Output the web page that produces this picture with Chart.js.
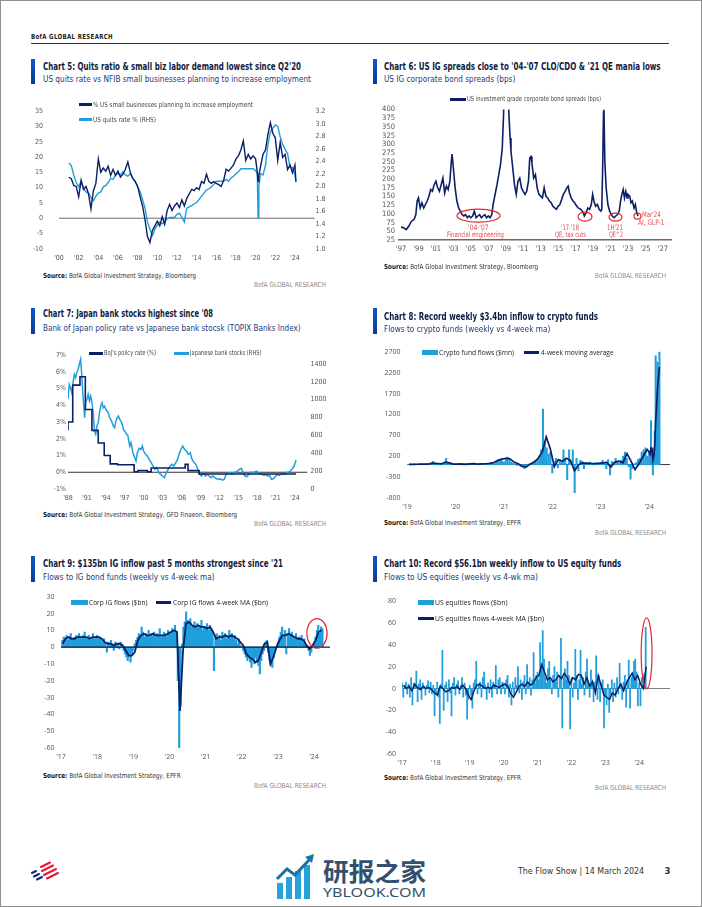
<!DOCTYPE html>
<html lang="en">
<head>
<meta charset="UTF-8">
<meta name="viewport" content="width=device-width, initial-scale=1.0">
<title>BofA Global Research - The Flow Show, page 3</title>
<script src="https://cdn.jsdelivr.net/npm/chart.js@4.4.1/dist/chart.umd.min.js"></script>
<style>
  html, body { margin: 0; padding: 0; background: #fff; }
  .page { position: relative; width: 702px; height: 907px; box-sizing: border-box; border: 1px solid #8f8f8f; overflow: hidden;
          font-family: "Liberation Sans Narrow", "DejaVu Sans Condensed", "Roboto", sans-serif; color: #222; }
  .t { position: absolute; white-space: nowrap; line-height: 1; transform-origin: 0 50%; transform: translateY(-50%); }
  .hdr { font-weight: bold; font-size: 7px; letter-spacing: .4px; color: #222; }
  .rule { position: absolute; height: 1px; background: #333; }
  .accent { position: absolute; width: 4px; height: 25px; background: linear-gradient(#0d57c8, #0a3d92); }
  .title { font-weight: bold; font-size: 10.5px; color: #0f1c42; }
  .sub { font-size: 9.5px; color: #1d3a78; }
  .src { font-size: 7px; color: #333; }
  .src b { color: #111; }
  .brand { font-size: 7px; color: #8c8c8c; }
  .lg { font-size: 7px; color: #444; }
  .lg2 { font-family: "Open Sans", "Noto Sans", sans-serif; font-size: 7px; color: #222; }
  .ann { font-size: 7.5px; color: #e6474d; }
  .sw { position: absolute; }
  canvas, svg { position: absolute; }
  .foot { font-size: 9.5px; color: #333; }
  .wm { font-family: "Noto Sans CJK SC", sans-serif; font-weight: bold; font-size: 25px; color: #34506e; }
  .wm2 { font-family: "Noto Sans", sans-serif; font-size: 13px; color: #34506e; }
</style>
</head>
<body>
<div class="page">
  <div class="t hdr" style="left:30px;top:36px" data-w="82">BofA GLOBAL RESEARCH</div>
  <div class="rule" style="left:30px;top:42px;width:638px"></div>

  <!-- Chart 5 -->
  <canvas id="c5" width="310" height="178" style="left:30px;top:90px"></canvas>
  <div class="accent" style="left:30px;top:58px"></div>
  <div class="t title" style="left:42px;top:65px" data-w="258">Chart 5: Quits ratio &amp; small biz labor demand lowest since Q2'20</div>
  <div class="t sub" style="left:42px;top:78px" data-w="268">US quits rate vs NFIB small businesses planning to increase employment</div>
  <div class="sw" style="left:78px;top:102px;width:13px;height:3px;background:#0b1f66"></div>
  <div class="t lg" style="left:92px;top:103.5px" data-w="160">% US small businesses planning to increase employment</div>
  <div class="sw" style="left:78px;top:117px;width:13px;height:3px;background:#1f9fdc"></div>
  <div class="t lg" style="left:92px;top:118.5px" data-w="63">US quits rate % (RHS)</div>
  <div class="t src" style="left:42px;top:275px" data-w="153"><b>Source:</b> BofA Global Investment Strategy, Bloomberg</div>
  <div class="t brand" style="left:253px;top:284px" data-w="72">BofA GLOBAL RESEARCH</div>

  <!-- Chart 6 -->
  <canvas id="c6" width="300" height="155" style="left:375px;top:100px"></canvas>
  <div class="accent" style="left:372px;top:58px"></div>
  <div class="t title" style="left:382.7px;top:65px" data-w="276.6">Chart 6: US IG spreads close to '04-'07 CLO/CDO &amp; '21 QE mania lows</div>
  <div class="t sub" style="left:382.7px;top:78px" data-w="131.3">US IG corporate bond spreads (bps)</div>
  <div class="sw" style="left:449px;top:97px;width:16px;height:2.5px;background:#0b1f66"></div>
  <div class="t lg" style="left:466px;top:98px" data-w="134">US investment grade corporate bond spreads (bps)</div>
  <div class="t ann" style="left:466.7px;top:227px" data-w="20.6">'04-'07</div>
  <div class="t ann" style="left:446px;top:234px" data-w="57">Financial engineering</div>
  <div class="t ann" style="left:560px;top:227px" data-w="18">'17-'18</div>
  <div class="t ann" style="left:554px;top:234px" data-w="31">QE, tax cuts</div>
  <div class="t ann" style="left:606px;top:227px" data-w="16">1H'21</div>
  <div class="t ann" style="left:607.7px;top:234px" data-w="14">QE^2</div>
  <div class="t ann" style="left:640.7px;top:214px" data-w="18.6">Mar'24</div>
  <div class="t ann" style="left:636.7px;top:222px" data-w="26.6">AI, GLP-1</div>
  <div class="t src" style="left:382.7px;top:266px" data-w="154"><b>Source:</b> BofA Global Investment Strategy, Bloomberg</div>
  <div class="t brand" style="left:594px;top:275px" data-w="71">BofA GLOBAL RESEARCH</div>

  <!-- Chart 7 -->
  <canvas id="c7" width="300" height="162" style="left:35px;top:345px"></canvas>
  <div class="accent" style="left:30px;top:307px;height:26px"></div>
  <div class="t title" style="left:41.7px;top:312px" data-w="170">Chart 7: Japan bank stocks highest since '08</div>
  <div class="t sub" style="left:41.7px;top:327px" data-w="257.6">Bank of Japan policy rate vs Japanese bank stocsk (TOPIX Banks Index)</div>
  <div class="sw" style="left:88px;top:351px;width:14px;height:3px;background:#0b1f66"></div>
  <div class="t lg" style="left:103px;top:352px" data-w="52">BoJ's policy rate (%)</div>
  <div class="sw" style="left:173px;top:351px;width:15px;height:3px;background:#1f9fdc"></div>
  <div class="t lg" style="left:188.5px;top:352px" data-w="71.5">Japanese bank stocks (RHS)</div>
  <div class="t src" style="left:41.7px;top:514px" data-w="194"><b>Source:</b> BofA Global Investment Strategy, GFD Finaeon, Bloomberg</div>
  <div class="t brand" style="left:253px;top:523px" data-w="72">BofA GLOBAL RESEARCH</div>

  <!-- Chart 8 -->
  <canvas id="c8" width="300" height="175" style="left:372px;top:340px"></canvas>
  <div class="accent" style="left:372px;top:307px;height:26px"></div>
  <div class="t title" style="left:382.7px;top:315px" data-w="214">Chart 8: Record weekly $3.4bn inflow to crypto funds</div>
  <div class="t sub" style="left:382.7px;top:328px" data-w="166.3">Flows to crypto funds (weekly vs 4-week ma)</div>
  <div class="sw" style="left:420.7px;top:348.5px;width:16px;height:5px;background:#1f9fdc"></div>
  <div class="t lg2" style="left:438px;top:351px" data-w="75">Crypto fund flows ($mn)</div>
  <div class="sw" style="left:523px;top:350px;width:15px;height:2.5px;background:#0b1f66"></div>
  <div class="t lg2" style="left:540px;top:351px" data-w="72.7">4-week moving average</div>
  <div class="t src" style="left:382.7px;top:522px" data-w="137"><b>Source:</b> BofA Global Investment Strategy, EPFR</div>
  <div class="t brand" style="left:594px;top:532px" data-w="71">BofA GLOBAL RESEARCH</div>

  <!-- Chart 9 -->
  <canvas id="c9" width="310" height="180" style="left:25px;top:585px"></canvas>
  <div class="accent" style="left:30px;top:555px;height:26px"></div>
  <div class="t title" style="left:41.7px;top:562px" data-w="240">Chart 9: $135bn IG inflow past 5 months strongest since '21</div>
  <div class="t sub" style="left:41.7px;top:576px" data-w="171.6">Flows to IG bond funds (weekly vs 4-week ma)</div>
  <div class="sw" style="left:70px;top:598.5px;width:17px;height:5px;background:#1f9fdc"></div>
  <div class="t lg2" style="left:88.3px;top:601px" data-w="58.4">Corp IG flows ($bn)</div>
  <div class="sw" style="left:155px;top:600px;width:15px;height:2.5px;background:#0b1f66"></div>
  <div class="t lg2" style="left:171.7px;top:601px" data-w="95">Corp IG flows 4-week MA ($bn)</div>
  <div class="t src" style="left:41.7px;top:775px" data-w="137.6"><b>Source:</b> BofA Global Investment Strategy, EPFR</div>
  <div class="t brand" style="left:253px;top:785px" data-w="72">BofA GLOBAL RESEARCH</div>

  <!-- Chart 10 -->
  <canvas id="c10" width="305" height="180" style="left:370px;top:590px"></canvas>
  <div class="accent" style="left:372px;top:555px;height:26px"></div>
  <div class="t title" style="left:382.7px;top:562px" data-w="237.3">Chart 10: Record $56.1bn weekly inflow to US equity funds</div>
  <div class="t sub" style="left:382.7px;top:576px" data-w="154">Flows to US equities (weekly vs 4-wk ma)</div>
  <div class="sw" style="left:417px;top:598.5px;width:16px;height:5px;background:#1f9fdc"></div>
  <div class="t lg2" style="left:434.3px;top:601px" data-w="72.4">US equities flows ($bn)</div>
  <div class="sw" style="left:417px;top:616px;width:16px;height:2.5px;background:#0b1f66"></div>
  <div class="t lg2" style="left:434.3px;top:617px" data-w="109">US equities flows 4-week MA ($bn)</div>
  <div class="t src" style="left:382.7px;top:777px" data-w="137"><b>Source:</b> BofA Global Investment Strategy, EPFR</div>
  <div class="t brand" style="left:594px;top:787px" data-w="71">BofA GLOBAL RESEARCH</div>

  <!-- footer -->
  <svg style="left:28px;top:860px" width="32" height="20" viewBox="0 0 32 20">
    <g stroke-linecap="round" stroke-width="2">
      <path d="M3 12 L7 10" stroke="#0a2a7a"/>
      <path d="M5 15.5 L10 13" stroke="#0a2a7a"/>
      <path d="M8 18.5 L13 16" stroke="#0a2a7a"/>
      <path d="M12 6 L21 1.5" stroke="#e31837"/>
      <path d="M13 10 L24 4.5" stroke="#e31837"/>
      <path d="M15 14 L27 8" stroke="#e31837"/>
      <path d="M18 17.5 L29 12" stroke="#e31837"/>
    </g>
  </svg>
  <svg style="left:274px;top:852px" width="42" height="46" viewBox="0 0 42 46">
    <rect x="2" y="30" width="6" height="16" fill="#27a3dc"/>
    <rect x="11" y="24" width="6" height="22" fill="#27a3dc"/>
    <rect x="20" y="18" width="6" height="28" fill="#27a3dc"/>
    <rect x="29" y="12" width="6" height="34" fill="#27a3dc"/>
    <path d="M2 26 L12 16 L20 22 L35 6" stroke="#1d6fa8" stroke-width="3" fill="none"/>
    <path d="M30 4 L39 1 L37 10 Z" fill="#1d6fa8"/>
  </svg>
  <div class="t wm" style="left:322px;top:869px" data-w="103">研报之家</div>
  <div class="t wm2" style="left:322px;top:891px" data-w="103">YBLOOK.COM</div>
  <div class="t foot" style="left:517px;top:870px" data-w="126">The Flow Show | 14 March 2024</div>
  <div class="t foot" style="left:663.5px;top:870px;font-weight:bold">3</div>
</div>

<script>
// ---------- Chart 5: NFIB hiring plans (LHS) vs US quits rate (RHS) ----------
const c5XTicks = [2000, 2002, 2004, 2006, 2008, 2010, 2012, 2014, 2016, 2018, 2020, 2022, 2024];
const c5LeftTicks = [-10, -5, 0, 5, 10, 15, 20, 25, 30, 35];
const c5RightTicks = [1.0, 1.2, 1.4, 1.6, 1.8, 2.0, 2.2, 2.4, 2.6, 2.8, 3.0, 3.2];
const nfibHiringPlans = [
  [2001.0,13.4],[2001.25,12.9],[2001.5,10.7],[2001.75,10.4],[2002.0,7],[2002.25,12.4],[2002.5,9.4],[2002.75,10.4],
  [2003.0,8],[2003.25,3],[2003.5,9],[2003.75,11.4],[2004.0,19.4],[2004.25,15],[2004.5,16.4],[2004.75,15.4],
  [2005.0,17],[2005.25,14],[2005.5,16],[2005.75,14],[2006.0,15.4],[2006.25,13.4],[2006.5,14.4],[2006.75,16],
  [2007.0,18.4],[2007.25,15],[2007.5,13],[2007.75,12],[2008.0,10.4],[2008.25,7],[2008.5,4],[2008.75,-0.5],
  [2009.0,-6],[2009.25,-8],[2009.5,-4],[2009.75,-2.5],[2010.0,-1],[2010.25,-2.5],[2010.5,0.5],[2010.75,-2],
  [2011.0,2.5],[2011.25,4.5],[2011.5,2.5],[2011.75,4],[2012.0,5],[2012.25,3.5],[2012.5,6],[2012.75,4],
  [2013.0,6.5],[2013.25,8],[2013.5,9.4],[2013.75,9],[2014.0,10],[2014.25,9.4],[2014.5,12],[2014.75,11.4],
  [2015.0,14.4],[2015.25,12],[2015.5,11.4],[2015.75,12],[2016.0,11.4],[2016.25,11],[2016.5,10.4],[2016.75,12.4],
  [2017.0,16],[2017.25,15.4],[2017.5,16.4],[2017.75,17.4],[2018.0,19.4],[2018.25,20.4],[2018.5,22.3],[2018.75,25.3],
  [2019.0,18.9],[2019.25,20.9],[2019.5,19.4],[2019.75,20.4],[2020.0,19.4],[2020.17,15],[2020.25,12],[2020.33,14],
  [2020.5,16.9],[2020.75,20.9],[2021.0,22.3],[2021.25,27.3],[2021.5,31.3],[2021.75,27.8],[2022.0,26.3],[2022.25,18.9],
  [2022.5,24.8],[2022.75,19.9],[2023.0,20.9],[2023.25,15.9],[2023.5,17.4],[2023.75,14.9],[2024.0,17.4],[2024.1,11.9]
];
const usQuitsRate = [
  [2001.0,2.37],[2001.25,2.33],[2001.5,2.18],[2001.75,2.06],[2002.0,1.99],[2002.25,2.08],[2002.5,1.96],[2002.75,1.91],
  [2003.0,1.89],[2003.25,1.82],[2003.5,1.77],[2003.75,1.84],[2004.0,1.89],[2004.25,1.91],[2004.5,1.99],[2004.75,2.01],
  [2005.0,2.06],[2005.25,2.13],[2005.5,2.11],[2005.75,2.18],[2006.0,2.2],[2006.25,2.18],[2006.5,2.23],[2006.75,2.18],
  [2007.0,2.16],[2007.25,2.2],[2007.5,2.13],[2007.75,2.08],[2008.0,1.99],[2008.25,1.91],[2008.5,1.79],[2008.75,1.65],
  [2009.0,1.43],[2009.25,1.31],[2009.5,1.21],[2009.75,1.31],[2010.0,1.38],[2010.25,1.43],[2010.5,1.4],[2010.75,1.43],
  [2011.0,1.48],[2011.25,1.5],[2011.5,1.5],[2011.75,1.5],[2012.0,1.55],[2012.25,1.57],[2012.5,1.5],[2012.75,1.43],
  [2013.0,1.65],[2013.25,1.67],[2013.5,1.69],[2013.75,1.72],[2014.0,1.74],[2014.25,1.79],[2014.5,1.84],[2014.75,1.89],
  [2015.0,1.94],[2015.25,1.96],[2015.5,1.99],[2015.75,2.03],[2016.0,2.08],[2016.25,2.08],[2016.5,2.08],[2016.75,2.08],
  [2017.0,2.11],[2017.25,2.08],[2017.5,2.13],[2017.75,2.16],[2018.0,2.2],[2018.25,2.23],[2018.5,2.28],[2018.75,2.28],
  [2019.0,2.28],[2019.25,2.28],[2019.5,2.28],[2019.75,2.28],[2020.0,2.25],[2020.17,2.2],[2020.25,1.5],[2020.33,2.0],
  [2020.5,2.2],[2020.75,2.18],[2021.0,2.33],[2021.25,2.67],[2021.5,2.86],[2021.75,2.93],[2022.0,2.98],[2022.25,2.96],
  [2022.5,2.79],[2022.75,2.67],[2023.0,2.59],[2023.25,2.52],[2023.5,2.3],[2023.75,2.3],[2024.0,2.18],[2024.1,2.08]
];

// ---------- Chart 6: US IG corporate bond spreads (bps) ----------
const c6XTicks = [1997, 1999, 2001, 2003, 2005, 2007, 2009, 2011, 2013, 2015, 2017, 2019, 2021, 2023, 2025, 2027];
const c6YTicks = [25, 50, 75, 100, 125, 150, 175, 200, 225, 250, 275, 300, 325, 350, 375, 400];
const igSpreads = [
  [1997.0,62],[1997.3,60],[1997.6,55],[1997.9,65],[1998.2,79],[1998.5,84],[1998.7,98],[1998.85,137],[1999.0,146],
  [1999.2,117],[1999.4,132],[1999.6,117],[1999.8,127],[2000.0,137],[2000.2,151],[2000.4,170],[2000.6,165],[2000.8,184],
  [2001.0,194],[2001.2,175],[2001.4,165],[2001.6,184],[2001.8,203],[2002.0,160],[2002.2,180],[2002.4,170],[2002.6,194],
  [2002.75,246],[2002.85,272],[2003.0,232],[2003.2,175],[2003.4,137],[2003.6,117],[2003.8,108],[2004.0,98],[2004.2,94],
  [2004.4,98],[2004.6,89],[2004.8,94],[2005.0,89],[2005.2,94],[2005.4,108],[2005.6,89],[2005.8,94],[2006.0,98],
  [2006.2,89],[2006.4,94],[2006.6,98],[2006.8,89],[2007.0,94],[2007.2,89],[2007.4,98],[2007.55,127],[2007.7,146],
  [2007.85,165],[2008.0,184],[2008.2,213],[2008.4,242],[2008.6,289],[2008.75,385],[2008.85,520],[2009.0,600],
  [2009.25,450],[2009.4,366],[2009.5,318],[2009.6,280],[2009.8,232],[2010.0,184],[2010.2,156],[2010.4,194],
  [2010.6,203],[2010.8,175],[2011.0,165],[2011.2,156],[2011.4,165],[2011.6,194],[2011.75,261],[2011.9,265],
  [2012.0,246],[2012.2,203],[2012.4,213],[2012.6,175],[2012.8,156],[2013.0,151],[2013.2,146],[2013.4,175],
  [2013.6,151],[2013.8,146],[2014.0,137],[2014.2,132],[2014.4,122],[2014.6,117],[2014.8,113],[2015.0,122],
  [2015.2,127],[2015.4,141],[2015.6,156],[2015.8,165],[2016.0,175],[2016.15,180],[2016.3,160],[2016.5,146],
  [2016.7,137],[2016.9,132],[2017.0,127],[2017.3,117],[2017.6,113],[2017.9,103],[2018.0,94],[2018.2,103],
  [2018.4,117],[2018.6,113],[2018.8,127],[2018.95,156],[2019.1,137],[2019.3,122],[2019.5,127],[2019.7,113],
  [2019.9,108],[2020.0,113],[2020.1,232],[2020.2,394],[2020.25,400],[2020.35,251],[2020.5,175],[2020.7,127],
  [2020.9,108],[2021.0,103],[2021.2,94],[2021.4,89],[2021.6,94],[2021.8,98],[2022.0,108],[2022.15,137],
  [2022.3,156],[2022.45,170],[2022.6,146],[2022.75,165],[2022.9,146],[2023.0,156],[2023.2,151],[2023.35,132],
  [2023.5,137],[2023.7,117],[2023.85,127],[2024.0,103],[2024.15,94]
];
const c6Circles = [
  { x: 2005.88, y: 95, rx: 2.47, ry: 18.6 },
  { x: 2018.08, y: 92, rx: 0.8, ry: 12.9 },
  { x: 2021.57, y: 90.6, rx: 0.74, ry: 11.5 },
  { x: 2024.09, y: 93.5, rx: 0.4, ry: 8.6 }
];

// ---------- Chart 7: BoJ policy rate (LHS) vs Japanese bank stocks (RHS) ----------
const c7XTicks = [1988, 1991, 1994, 1997, 2000, 2003, 2006, 2009, 2012, 2015, 2018, 2021, 2024];
const c7LeftTicks = [-1, 0, 1, 2, 3, 4, 5, 6, 7];
const c7RightTicks = [0, 200, 400, 600, 800, 1000, 1200, 1400];
const bojPolicyRate = [
  [1988.0,2.5],[1988.75,3.0],[1989.9,5.2],[1990.75,5.7],[1991.8,3.75],[1992.8,2.5],[1993.75,1.75],[1994.7,1.0],
  [1995.85,0.5],[1998.5,0.45],[1999.1,0.03],[2000.6,0.1],[2001.2,0.03],[2006.6,0.25],[2007.05,0.47],[2008.8,0.1],
  [2016.1,-0.1],[2024.2,-0.1]
];
const japanBankStocks = [
  [1988.0,1004],[1988.2,1172],[1988.4,1134],[1988.6,1078],[1988.8,1190],[1989.0,1284],[1989.2,1246],[1989.4,1302],
  [1989.6,1340],[1989.8,1396],[1990.0,1452],[1990.2,1265],[1990.35,1078],[1990.5,929],[1990.65,798],[1990.8,966],
  [1991.0,1004],[1991.2,1060],[1991.4,985],[1991.6,1041],[1991.8,966],[1992.0,854],[1992.2,649],[1992.4,612],
  [1992.6,705],[1992.8,743],[1993.0,854],[1993.2,929],[1993.4,966],[1993.6,910],[1993.8,929],[1994.0,892],
  [1994.2,873],[1994.4,854],[1994.6,798],[1994.8,780],[1995.0,743],[1995.2,705],[1995.4,686],[1995.6,761],
  [1995.8,798],[1996.0,817],[1996.2,780],[1996.4,761],[1996.6,724],[1996.8,668],[1997.0,649],[1997.3,612],
  [1997.5,600],[1997.8,481],[1998.0,519],[1998.3,406],[1998.6,351],[1998.8,313],[1999.0,406],[1999.3,456],
  [1999.6,444],[1999.8,481],[2000.0,425],[2000.3,388],[2000.6,369],[2000.9,332],[2001.2,295],[2001.5,257],
  [2001.8,220],[2002.1,239],[2002.4,183],[2002.7,164],[2003.0,145],[2003.3,127],[2003.6,183],[2003.9,220],
  [2004.2,257],[2004.5,276],[2004.8,257],[2005.1,295],[2005.4,332],[2005.7,406],[2006.0,456],[2006.2,481],
  [2006.5,444],[2006.8,425],[2007.1,388],[2007.4,406],[2007.7,332],[2008.0,295],[2008.3,276],[2008.6,220],
  [2008.9,164],[2009.2,145],[2009.5,183],[2009.8,145],[2010.1,164],[2010.4,145],[2010.7,127],[2011.0,145],
  [2011.3,127],[2011.6,115],[2011.9,108],[2012.2,115],[2012.5,100],[2012.8,108],[2013.1,164],[2013.4,183],
  [2013.7,183],[2014.0,175],[2014.3,183],[2014.6,190],[2014.9,201],[2015.2,220],[2015.5,231],[2015.8,183],
  [2016.1,145],[2016.4,138],[2016.7,164],[2017.0,190],[2017.3,183],[2017.6,190],[2017.9,201],[2018.2,183],
  [2018.5,171],[2018.8,164],[2019.1,153],[2019.4,164],[2019.7,145],[2020.0,153],[2020.3,108],[2020.6,115],
  [2020.9,138],[2021.2,164],[2021.5,153],[2021.8,164],[2022.1,171],[2022.4,164],[2022.7,183],[2023.0,190],
  [2023.3,201],[2023.6,227],[2023.9,257],[2024.2,324]
];

// ---------- Chart 8: crypto fund flows ($mn) ----------
const c8XTicks = [2019, 2020, 2021, 2022, 2023, 2024];
const c8YTicks = [-800, -300, 200, 700, 1200, 1700, 2200, 2700];
// two-weekly readings, Jan 2019 - Dec 2023
const cryptoFlowsBiweekly = [
  5, 0, 10, 5, 15, 0, 10, 20, 5, 10, 15, 20, 30, 40, 80, 30, 20, 10, 5, 20, 40, 150, 30, 10, 5, 10,
  10, 20, 15, 5, -10, 20, 30, 10, 5, 15, 20, 10, 5, 15, 10, 20, 25, 10, 30, 40, 50, 30, 60, 80, 120, 90,
  60, 150, 180, 120, 60, 30, 10, -20, 20, -40, -60, -100, -50, 10, 20, 40, 60, 100, 120, 200, 350, 1330, 550, 400, 250, 300,
  -200, 80, 150, -80, 120, 60, 350, 100, -360, 350, 50, 350, -670, 150, -150, 100, 80, -100, 50, 40, 60, 30, 20, 50, 40, 30,
  50, 100, 30, -100, 120, -250, 80, 40, 150, 60, 30, 100, 200, 300, 150, -50, -350, -100, 20, 50, 120, 150, 300, 350, 400, 200
];
// weekly, 2024
const cryptoFlows2024Weekly = [300, 200, 1050, 150, -250, 400, 800, 2600, 1700, 2450, 2100, 2700];
const cryptoMaMonthly = [
  5, 5, 8, 10, 12, 15, 35, 25, 15, 60, 40, 10,
  10, 15, 5, 15, 20, 10, 15, 20, 30, 50, 100, 130,
  150, 140, 60, 20, -40, -60, 10, 60, 150, 300, 660, 380,
  -50, 120, 80, 150, 100, -150, 0, 40, 30, 30, 20, 30,
  40, 50, -60, 60, 80, 40, 260, 80, -120, 20, 200, 360
];
const cryptoMa2024Weekly = [300, 250, 400, 380, 100, 200, 450, 1050, 1400, 1850, 2100, 2330];

// ---------- Chart 9: IG bond fund flows ($bn) ----------
const c9XTicks = [2017, 2018, 2019, 2020, 2021, 2022, 2023, 2024];
const c9YTicks = [-60, -50, -40, -30, -20, -10, 0, 10, 20, 30];
const igFlowsBiweekly = [
  0, 4, 6, 5, 7, 4, 6, 8, 5, 4, 6, 7, 5, 8, 6, 5, 7, 9, 6, 5, 7, 4, 6, 8, 5, 6,
  7, 5, 6, 4, 3, 5, 2, -3, 3, 1, 4, 2, -2, 3, 1, 2, -1, 3, 0, -2, -4, -6, -8, -5, -9, -4,
  -2, 2, 4, 6, 8, 7, 12, 9, 6, 8, 7, 10, 6, 8, 7, 9, 6, 8, 7, 11, 6, 7, 9, 8, 6, 10,
  9, 8, 11, 10, 13, 8, -20, -61, -35, 2, 12, 15, 21, 16, 14, 17, 12, 13, 15, 11, 14, 12, 13, 16, 10, 12,
  12, 14, 10, 13, 11, 9, -14, 6, 8, 5, 7, 4, 9, 6, 8, 5, 7, 10, 6, 8, 5, 7, 4, 2, 5, 1,
  0, -2, -4, -6, -8, -5, -9, -12, -7, -10, -6, -9, -11, -16, -8, -4, -2, 3, 4, -3, -8, -11, -12, -6, -2, 0,
  3, 6, 9, 12, 7, 10, -4, 8, 11, 7, 9, 6, 5, 8, 4, 6, 5, 7, 3, 5, 2, 1, -2, -5, -3, 1,
  3, 6, 10, 13, 8, 12, 11
];
const igMaMonthly = [
  2, 5, 6, 5, 5, 6, 6, 6, 6, 5, 6, 6,
  6, 5, 3, 2, 2, 1, 2, 2, 1, -2, -5, -5,
  -3, 4, 7, 8, 7, 7, 8, 7, 7, 7, 7, 8,
  9, 10, 9, -38, -2, 14, 15, 13, 12, 13, 12, 12,
  11, 12, 9, 5, 6, 6, 7, 6, 7, 6, 5, 3,
  1, -4, -6, -7, -9, -8, -3, 2, 3, -10, -6, 0,
  4, 7, 7, 8, 7, 6, 5, 5, 4, 1, -1, 1,
  4, 9, 10
];
const c9Circles = [{ x: 2024.08, y: 8.2, rx: 0.28, ry: 8.8 }];

// ---------- Chart 10: US equity fund flows ($bn) ----------
const c10XTicks = [2017, 2018, 2019, 2020, 2021, 2022, 2023, 2024];
const c10YTicks = [-60, -40, -20, 0, 20, 40, 60, 80];
const usEqFlowsBiweekly = [
  5, -8, 3, 6, -5, 4, -8, 10, -15, 5, 3, 16, -12, 4, 8, -10, 5, 2, -6, 3, 7, -4, 6, -5, 3, -25,
  -5, 6, -8, -32, 4, 35, -20, 3, 6, -12, 8, -4, -25, 5, 10, -6, 4, 7, -5, 3, 10, -8, 5, -6, -28, -10,
  3, -6, -18, 5, 8, 25, -5, 4, 6, -8, 10, 15, 3, -10, 5, -4, 8, -8, 6, 4, 21, -5, 8, 10, -5, 6,
  5, -5, 8, 12, -8, 4, -15, 6, -6, 10, 3, 20, -4, 8, -10, 6, 12, -5, 22, 4, 10, -6, 8, 33, 5, 12,
  15, 8, 42, 20, 53, 27, 10, 5, 18, 25, 8, -5, 12, 20, 6, 15, -8, 12, 46, -36, 10, 18, 8, 25, 12, -37,
  10, -8, 5, 36, 12, -10, 8, 35, 4, 10, -6, 15, 27, 5, -8, 17, 8, -12, 6, 30, -10, 12, -12, 5, 8, -36,
  -8, -15, 4, -22, -6, 8, -12, 5, -8, 10, -5, 23, 4, -10, 6, 12, -17, 8, 26, -18, 10, 15, 25, 27, 15, -16,
  5, -16, 10, 12, 14, 56
];
const usEqMaMonthly = [
  3, 0, 2, -2, 4, 1, -1, 2, 0, 1, -1, -4,
  -6, 2, 0, -3, -2, 1, 0, 2, -1, 3, 0, -6,
  -10, -2, 3, 4, 2, 0, 1, 0, 3, 2, 1, 3,
  4, 2, -5, -8, -3, 2, 4, 2, 6, 3, 5, 10,
  12, 22, 15, 8, 10, 6, 8, 12, 9, 14, 10, 4,
  10, 8, 13, 12, 4, 10, 2, 6, -4, 12, 3, -6,
  -8, -10, -4, -6, 0, 4, -2, 5, 10, 14, 8, 12,
  4, 0, 20
];
const c10Circles = [{ x: 2024.22, y: 32.2, rx: 0.16, ry: 32.5 }];

// ---------- helpers ----------
const NAVY = '#0b1f66', SKY = '#1f9fdc', RED = '#e2262c';
const NARROW = '"Liberation Sans Narrow", "DejaVu Sans Condensed", "Roboto", sans-serif';
const WIDE = '"Open Sans", "Noto Sans", sans-serif';
Chart.defaults.font.family = NARROW;
Chart.defaults.color = '#555';

const fromPairs = pairs => pairs.map(([x, y]) => ({ x, y }));
const onGrid = (start, perYear, values, offset = 0) => values.map((y, i) => ({ x: start + (i + offset) / perYear, y }));
const yearLabel = v => "'" + String(v).slice(2);
const plain = v => String(v);
const setTicks = values => scale => { scale.ticks = values.map(value => ({ value })); };
const fixW = w => scale => { scale.width = w; };
const fixH = h => scale => { scale.height = h; };

function xAxis(min, max, ticks, h, font, border) {
  return {
    type: 'linear', min, max, offset: false, afterBuildTicks: setTicks(ticks), afterFit: fixH(h),
    grid: { display: false, drawTicks: false }, border: border || { display: false },
    ticks: { callback: yearLabel, padding: 5, maxRotation: 0, autoSkip: false, font }
  };
}
function yAxis(min, max, ticks, w, padding, font, callback, position) {
  return {
    min, max, position: position || 'left', afterBuildTicks: setTicks(ticks), afterFit: fixW(w),
    grid: { display: false, drawTicks: false }, border: { display: false },
    ticks: { padding, autoSkip: false, font, callback: callback || plain }
  };
}
function common(top, right) {
  return {
    responsive: false, animation: false, devicePixelRatio: 1, events: [],
    layout: { padding: { top, right: right || 0, left: 0, bottom: 0 } },
    elements: { point: { radius: 0 }, line: { tension: 0 } }
  };
}

const zeroLine = {
  id: 'zeroLine',
  beforeDatasetsDraw(chart, args, o) { if (!o.onTop) drawZero(chart, o); },
  afterDatasetsDraw(chart, args, o) { if (o.onTop) drawZero(chart, o); }
};
function drawZero(chart, o) {
  const { ctx, chartArea: a } = chart;
  const y = chart.scales.y.getPixelForValue(0);
  ctx.save();
  ctx.strokeStyle = o.color;
  ctx.lineWidth = o.width;
  ctx.beginPath(); ctx.moveTo(a.left, y); ctx.lineTo(a.right, y); ctx.stroke();
  ctx.restore();
}

const ellipses = {
  id: 'ellipses',
  afterDatasetsDraw(chart, args, o) {
    const { ctx, scales: { x, y } } = chart;
    (o.items || []).forEach(e => {
      const cx = x.getPixelForValue(e.x), cy = y.getPixelForValue(e.y);
      const rx = Math.abs(x.getPixelForValue(e.x + e.rx) - cx);
      const ry = Math.abs(y.getPixelForValue(e.y + e.ry) - cy);
      ctx.save();
      ctx.beginPath();
      ctx.ellipse(cx, cy, rx, ry, 0, 0, Math.PI * 2);
      ctx.strokeStyle = RED;
      ctx.lineWidth = 1.2;
      ctx.stroke();
      ctx.restore();
    });
  }
};

const f7 = { size: 7 };
const fw = { size: 7, family: WIDE };
const noPlugins = { legend: { display: false }, tooltip: { enabled: false } };

// ---------- Chart 5 ----------
new Chart(document.getElementById('c5'), {
  type: 'line',
  data: { datasets: [
    { data: fromPairs(nfibHiringPlans), yAxisID: 'y', borderColor: NAVY, borderWidth: 1.4 },
    { data: fromPairs(usQuitsRate), yAxisID: 'y2', borderColor: SKY, borderWidth: 1.4 }
  ] },
  options: Object.assign(common(8), {
    scales: {
      x: xAxis(2000, 2026, c5XTicks, 19, f7),
      y: yAxis(-10, 35, c5LeftTicks, 28, 16, f7),
      y2: yAxis(1.0, 3.2, c5RightTicks, 26.4, 1, f7, v => v.toFixed(1), 'right')
    },
    plugins: Object.assign({ zeroLine: { color: '#6b6b6b', width: 1 } }, noPlugins)
  }),
  plugins: [zeroLine]
});

// ---------- Chart 6 ----------
new Chart(document.getElementById('c6'), {
  type: 'line',
  data: { datasets: [
    { data: fromPairs(igSpreads), borderColor: NAVY, borderWidth: 1.6 }
  ] },
  options: Object.assign(common(8, 5), {
    scales: {
      x: xAxis(1996.77, 2027.93, c6XTicks, 16, { size: 7.5 }, { display: true, color: '#6a6a6a', width: 1.5 }),
      y: yAxis(25, 400, c6YTicks, 23, 4, { size: 7.5 })
    },
    plugins: Object.assign({ ellipses: { items: c6Circles } }, noPlugins)
  }),
  plugins: [ellipses]
});

// ---------- Chart 7 ----------
new Chart(document.getElementById('c7'), {
  type: 'line',
  data: { datasets: [
    { data: fromPairs(bojPolicyRate), yAxisID: 'y', borderColor: NAVY, borderWidth: 1.6, stepped: 'after' },
    { data: fromPairs(japanBankStocks), yAxisID: 'y2', borderColor: SKY, borderWidth: 1.5 }
  ] },
  options: Object.assign(common(9), {
    scales: {
      x: xAxis(1988, 2026, c7XTicks, 19, f7),
      y: yAxis(-1, 7, c7LeftTicks, 32, 2, f7, v => v + '%'),
      y2: yAxis(0, 1500, c7RightTicks, 28.6, 3, f7, plain, 'right')
    },
    plugins: Object.assign({ zeroLine: { color: '#333', width: 1 } }, noPlugins)
  }),
  plugins: [zeroLine]
});

// ---------- Chart 8 ----------
new Chart(document.getElementById('c8'), {
  type: 'bar',
  data: { datasets: [
    { type: 'line', data: onGrid(2019, 12, cryptoMaMonthly, 0.5).concat(onGrid(2024, 52, cryptoMa2024Weekly)),
      borderColor: NAVY, borderWidth: 1.7 },
    { data: onGrid(2019, 26, cryptoFlowsBiweekly).concat(onGrid(2024, 52, cryptoFlows2024Weekly)),
      backgroundColor: SKY, barThickness: 1.4 }
  ] },
  options: Object.assign(common(9, 3), {
    scales: {
      x: xAxis(2019, 2024.43, c8XTicks, 18, fw),
      y: yAxis(-800, 2700, c8YTicks, 34, 6.5, fw)
    },
    plugins: Object.assign({ zeroLine: { color: '#3a3a3a', width: 1 } }, noPlugins)
  }),
  plugins: [zeroLine]
});

// ---------- Chart 9 ----------
new Chart(document.getElementById('c9'), {
  type: 'bar',
  data: { datasets: [
    { type: 'line', data: onGrid(2017, 12, igMaMonthly, 0.5), borderColor: NAVY, borderWidth: 1.8 },
    { data: onGrid(2017, 26, igFlowsBiweekly), backgroundColor: SKY, barThickness: 1.5 }
  ] },
  options: Object.assign(common(9, 6), {
    scales: {
      x: xAxis(2017, 2024.44, c9XTicks, 18, fw),
      y: yAxis(-60, 30, c9YTicks, 35, 6.5, fw)
    },
    plugins: Object.assign({ zeroLine: { color: '#151a3a', width: 1.3, onTop: true }, ellipses: { items: c9Circles } }, noPlugins)
  }),
  plugins: [zeroLine, ellipses]
});

// ---------- Chart 10 ----------
new Chart(document.getElementById('c10'), {
  type: 'bar',
  data: { datasets: [
    { type: 'line', data: onGrid(2017, 12, usEqMaMonthly, 0.5), borderColor: NAVY, borderWidth: 1.5 },
    { data: onGrid(2017, 26, usEqFlowsBiweekly), backgroundColor: SKY, barThickness: 1.1 }
  ] },
  options: Object.assign(common(8, 6), {
    scales: {
      x: xAxis(2017, 2024.91, c10XTicks, 17, fw),
      y: yAxis(-60, 80, c10YTicks, 31, 6, fw)
    },
    plugins: Object.assign({ zeroLine: { color: '#808080', width: 1 }, ellipses: { items: c10Circles } }, noPlugins)
  }),
  plugins: [zeroLine, ellipses]
});

// squeeze each text run to the width it has in the printed page
function fitText() {
  document.querySelectorAll('[data-w]').forEach(el => {
    el.style.transform = 'translateY(-50%)';
    const w = el.getBoundingClientRect().width;
    if (w > 0) el.style.transform = 'translateY(-50%) scaleX(' + (+el.dataset.w / w).toFixed(4) + ')';
  });
}
fitText();
if (document.fonts && document.fonts.ready) document.fonts.ready.then(fitText);
</script>
</body>
</html>
